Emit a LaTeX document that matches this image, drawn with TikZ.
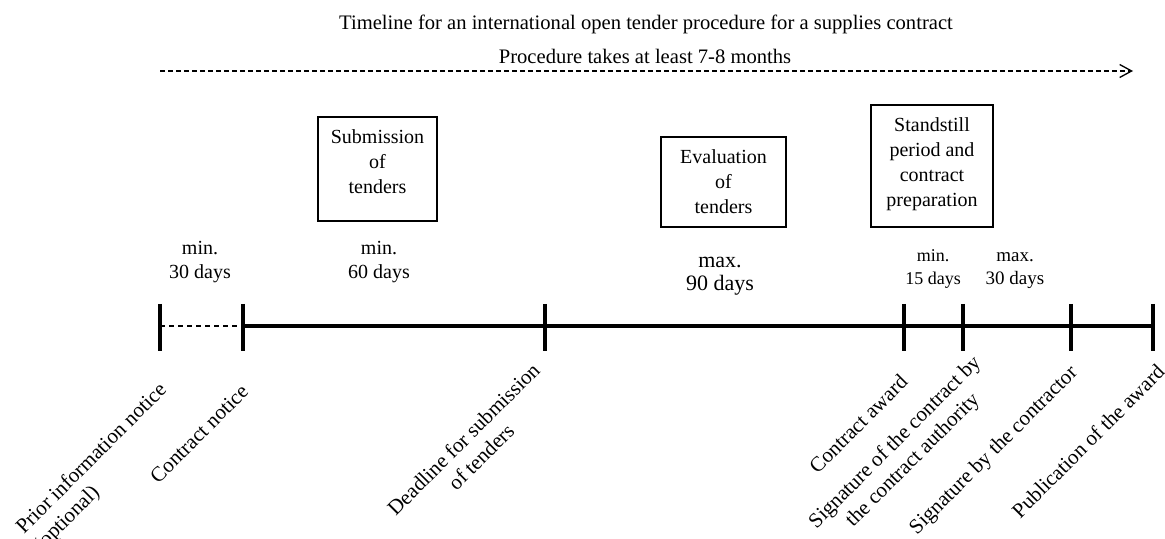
\documentclass[tikz,border=0pt]{standalone}
\usepackage{fontspec}
\setmainfont{Liberation Serif}
\usetikzlibrary{arrows.meta}

\tikzset{
  box/.style={draw, line width=0.8pt, align=center, inner sep=2pt,
    font=\fontsize{10}{12.5}\selectfont},
  tickline/.style={line width=2pt},
  days/.style={align=center, inner sep=1pt, font=\fontsize{10}{12}\selectfont},
  event/.style={rotate=45, anchor=east, align=center, inner sep=0pt,
    font=\fontsize{10.5}{12.5}\selectfont},
}

\begin{document}
\begin{tikzpicture}[x=0.5pt,y=-0.5pt]
  \useasboundingbox (0,0) rectangle (1165,539);

  % heading and overall duration
  \node[font=\fontsize{10.3}{12}\selectfont] (title) at (646,24)
    {Timeline for an international open tender procedure for a supplies contract};
  \node[font=\fontsize{10.3}{12}\selectfont] (total) at (645,56)
    {Procedure takes at least 7-8 months};
  \coordinate (begin) at (160,71);
  \coordinate (end) at (1133,71);
  \draw[line width=0.65pt, dash pattern=on 2.5pt off 1.5pt,
    -{Straight Barb[length=6pt,width=6.5pt]}] (begin) -- (end);

  % phases
  \node[box, minimum width=59.5pt, minimum height=52pt, text depth=7.5pt]
    (submission) at (377.5,169) {Submission\\of\\tenders};
  \node[box, minimum width=62.5pt, minimum height=45pt]
    (evaluation) at (723.5,182) {Evaluation\\of\\tenders};
  \node[box, minimum width=61pt, minimum height=61pt, text depth=3.5pt]
    (standstill) at (932,166) {Standstill\\period and\\contract\\preparation};

  % durations
  \node[days] (min30) at (200,262) {min.\\30 days};
  \node[days] (min60) at (379,262) {min.\\60 days};
  \node[days, font=\fontsize{11}{11.5}\selectfont] (max90) at (720,276.5) {max.\\90 days};
  \node[days, font=\fontsize{9}{11.5}\selectfont] (min15) at (933,268.5) {min.\\15 days};
  \node[days, font=\fontsize{9.5}{11.5}\selectfont] (max30) at (1015,270.5) {max.\\30 days};

  % timeline
  \foreach \name/\x in {prior/160, notice/243, deadline/545, award/904,
                        signauth/963, signcontr/1071, publish/1153}
    \coordinate (\name) at (\x,326);
  \draw[line width=0.6pt, dash pattern=on 2.5pt off 2pt] (prior) -- (notice);
  \draw[tickline] (notice) -- (publish);
  \foreach \name in {prior, notice, deadline, award, signauth, signcontr, publish}
    \draw[tickline] (\name) ++(0,-22) -- ++(0,47);

  % events
  \node[event, align=left] (priorText) at (173,396) {Prior information notice\\(optional)};
  \node[event] (noticeText) at (245,388) {Contract notice};
  \node[event] (deadlineText) at (545,375) {Deadline for submission\\of tenders};
  \node[event] (awardText) at (904,378) {Contract award};
  \node[event] (signauthText) at (987,369) {Signature of the contract by\\the contract authority};
  \node[event] (signcontrText) at (1075,370) {Signature by the contractor};
  \node[event] (publishText) at (1161,368) {Publication of the award};
\end{tikzpicture}
\end{document}
